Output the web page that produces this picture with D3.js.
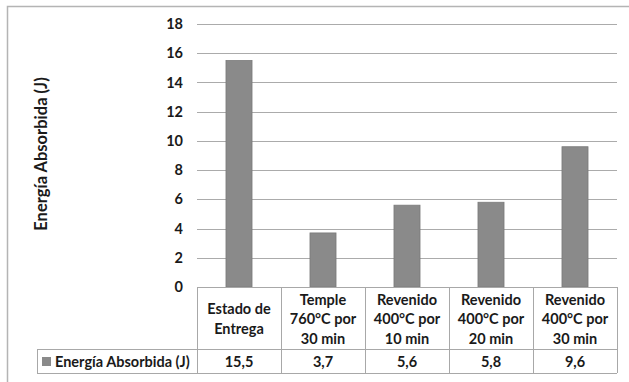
<!DOCTYPE html>
<html>
<head>
<meta charset="utf-8">
<script src="https://cdn.jsdelivr.net/npm/d3@7"></script>
<style>
  html, body { margin: 0; padding: 0; background: #fff; }
  svg { display: block; }
  text { font-family: Lato, "Open Sans", sans-serif; font-weight: bold; fill: #1a1a1a; }
</style>
</head>
<body>
<svg id="chart" width="629" height="382"></svg>
<script>
// Categories (multi-line labels) and absorbed energy values
const categories = [
  ["Estado de", "Entrega"],
  ["Temple", "760°C por", "30 min"],
  ["Revenido", "400°C por", "10 min"],
  ["Revenido", "400°C por", "20 min"],
  ["Revenido", "400°C por", "30 min"]
];
const energia = [15.5, 3.7, 5.6, 5.8, 9.6];
const valueLabels = ["15,5", "3,7", "5,6", "5,8", "9,6"];
const yTicks = [0, 2, 4, 6, 8, 10, 12, 14, 16, 18];
const seriesName = "Energía Absorbida (J)";

const svg = d3.select("#chart");
const plot = { left: 197, right: 617, top: 24, bottom: 287 };
const tableRow1 = 349, tableRow2 = 373, legendLeft = 37;
const fs = 14.5;

// Outer chart frame
svg.append("rect").attr("x", 7.5).attr("y", 6.5).attr("width", 640).attr("height", 400)
  .attr("fill", "#fff").attr("stroke", "#b4b4b4").attr("stroke-width", 1.5);

const x = d3.scaleBand().domain(d3.range(categories.length))
  .range([plot.left, plot.right]).padding(0);
const y = d3.scaleLinear().domain([0, 18]).range([plot.bottom, plot.top]);

// Gridlines
svg.append("g").selectAll("line").data(yTicks.filter(d => d > 0)).join("line")
  .attr("x1", plot.left).attr("x2", plot.right)
  .attr("y1", d => Math.round(y(d)) + 0.5).attr("y2", d => Math.round(y(d)) + 0.5)
  .attr("stroke", "#ababab").attr("stroke-width", 1.2);

// Y axis tick labels
const yAxis = d3.axisLeft(y).tickValues(yTicks).tickSize(0).tickPadding(0);
const gy = svg.append("g").attr("transform", `translate(183,0)`).call(yAxis);
gy.select(".domain").remove();
gy.selectAll("text").attr("font-size", fs).attr("font-family", "Lato, sans-serif")
  .attr("font-weight", "bold").attr("fill", "#1a1a1a");

// Bars
const barW = x.bandwidth() * 0.31;
svg.append("g").selectAll("rect").data(energia).join("rect")
  .attr("x", (d, i) => x(i) + (x.bandwidth() - barW) / 2)
  .attr("y", d => y(d))
  .attr("width", barW)
  .attr("height", d => y(0) - y(d))
  .attr("fill", "#8a8a8a").attr("stroke", "#7a7a7a").attr("stroke-width", 0.8);

// Data table
const tg = svg.append("g").attr("stroke", "#a8a8a8").attr("stroke-width", 1).attr("fill", "none");
tg.append("line").attr("x1", plot.left).attr("x2", plot.right).attr("y1", plot.bottom + 0.5).attr("y2", plot.bottom + 0.5);
tg.append("line").attr("x1", legendLeft).attr("x2", plot.right).attr("y1", tableRow1 + 0.5).attr("y2", tableRow1 + 0.5);
tg.append("line").attr("x1", legendLeft).attr("x2", plot.right).attr("y1", tableRow2 + 0.5).attr("y2", tableRow2 + 0.5);
tg.append("line").attr("x1", legendLeft + 0.5).attr("x2", legendLeft + 0.5).attr("y1", tableRow1).attr("y2", tableRow2);
tg.selectAll(".col").data(d3.range(categories.length + 1)).join("line")
  .attr("x1", i => Math.round(i < categories.length ? x(i) : plot.right) + 0.5)
  .attr("x2", i => Math.round(i < categories.length ? x(i) : plot.right) + 0.5)
  .attr("y1", plot.bottom).attr("y2", tableRow2);

// Category labels
const lineH = 19.5;
const catG = svg.append("g");
categories.forEach((lines, i) => {
  const cy = (plot.bottom + tableRow1) / 2 + 1;
  const t = catG.append("text").attr("x", x(i) + x.bandwidth() / 2)
    .attr("text-anchor", "middle").attr("font-size", fs);
  lines.forEach((ln, k) => {
    t.append("tspan").attr("x", x(i) + x.bandwidth() / 2)
      .attr("y", cy + (k - (lines.length - 1) / 2) * lineH)
      .attr("dy", "0.35em").text(ln);
  });
});

// Value row
svg.append("g").selectAll("text").data(valueLabels).join("text")
  .attr("x", (d, i) => x(i) + x.bandwidth() / 2)
  .attr("y", (tableRow1 + tableRow2) / 2 + 1).attr("dy", "0.35em")
  .attr("text-anchor", "middle").attr("font-size", fs).text(d => d);

// Legend key in table
svg.append("rect").attr("x", 42).attr("y", 357).attr("width", 9).attr("height", 9)
  .attr("fill", "#8a8a8a");
svg.append("text").attr("x", 55).attr("y", (tableRow1 + tableRow2) / 2 + 1).attr("dy", "0.35em")
  .attr("font-size", fs).text(seriesName);

// Y axis title
svg.append("text").attr("transform", "translate(41,154) rotate(-90)")
  .attr("text-anchor", "middle").attr("dy", "0.35em").attr("font-size", 16.5).text(seriesName);
</script>
</body>
</html>
